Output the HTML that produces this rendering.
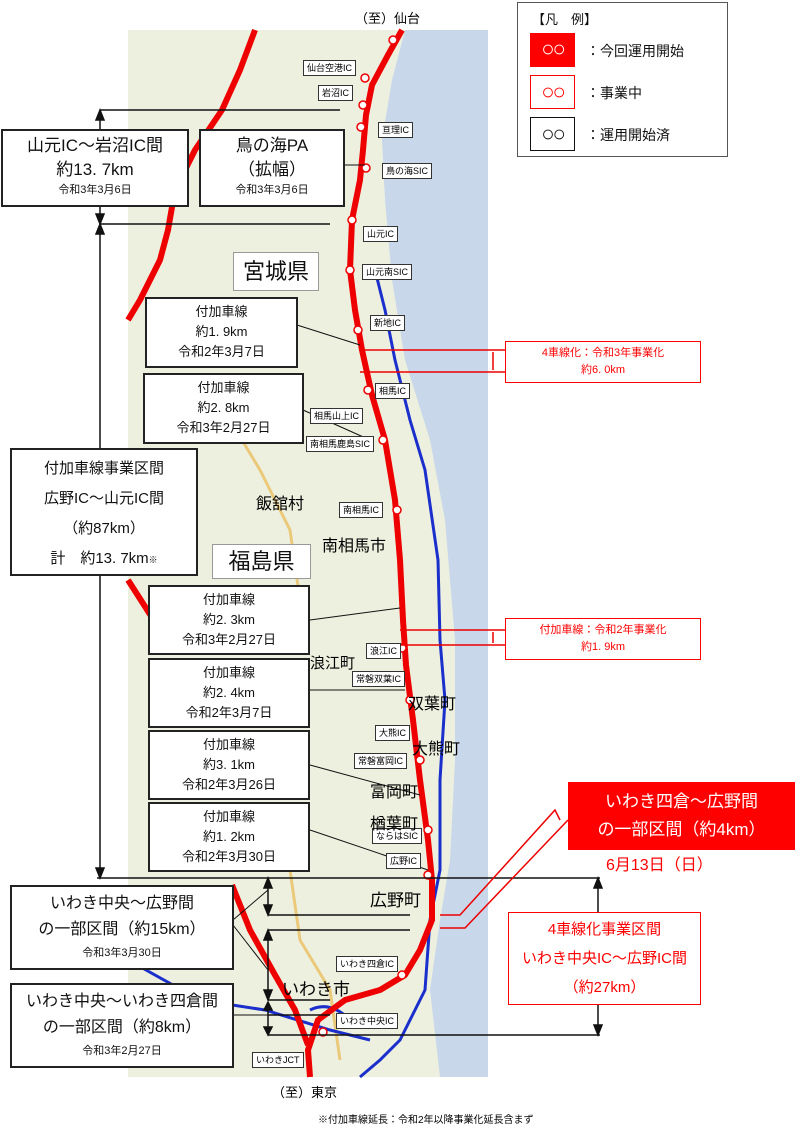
<!DOCTYPE html>
<html><head><meta charset="utf-8"><style>
html,body{margin:0;padding:0;background:#fff}
body{width:800px;height:1130px;position:relative;overflow:hidden;font-family:"Liberation Sans","Noto Sans CJK JP",sans-serif}
.b{position:absolute;background:#fff;border:2px solid #222;box-sizing:border-box;text-align:center;color:#111}
.t{position:absolute;white-space:nowrap}
.ic{position:absolute;background:#fff;border:1.5px solid #333;font-size:9px;padding:1px 3px;line-height:12px;white-space:nowrap}
.lg{position:absolute;left:12px;width:45px;height:34px;box-sizing:border-box;font-size:22px;line-height:32px;letter-spacing:-2px}
</style></head><body>
<svg width="800" height="1130" style="position:absolute;left:0;top:0">
<rect x="128" y="30" width="360" height="1047" fill="#eef0df"/>
<polygon points="405,30 488,30 488,1077 440,1077 430,990 440,920 450,860 455,760 455,640 445,520 430,440 405,360 392,280 385,200 382,140 392,80" fill="#c8d7ea"/>
<g fill="none" stroke="#e8c060" stroke-width="3" opacity=".8">
<path d="M290,870 L300,940 L330,990 L340,1060"/><path d="M230,420 L260,470 L290,530 L300,600"/>
</g>
<g fill="none" stroke="#1a2fcc" stroke-width="3">
<path d="M375,270 L385,310 L395,360 L410,420 L425,470 L438,560 L440,640 L445,700 L440,780 L440,870 L430,920 L425,990 L400,1040 L380,1060 L360,1077"/>
<path d="M128,960 L200,1000 L265,1010 L330,1030 L370,1040"/>
<path d="M310,1010 Q330,1000 350,1020"/>
</g>
<g fill="none" stroke="#ee0000" stroke-width="6" stroke-linejoin="round">
<path d="M402,30 L388,55 L372,85 L366,115 L363,150 L360,180 L352,220 L350,270 L355,310 L362,350 L372,395 L385,440 L395,500 L400,560 L403,620 L406,665 L413,720 L420,780 L428,840 L432,880 L432,920 L420,950 L405,975 L380,990 L345,1000 L318,1020 L308,1050 L310,1077"/>
<path d="M255,30 L240,70 L222,110 L195,150 L175,190 L168,230 L160,260 L140,300 L128,320"/>
<path d="M128,580 L160,630"/>
<path d="M232,885 L250,930 L275,975 L295,1010 L308,1045"/>
</g>
<g fill="#fff" stroke="#e00" stroke-width="1.5">
<circle cx="393" cy="40" r="4"/><circle cx="365" cy="78" r="4"/><circle cx="363" cy="105" r="4"/><circle cx="361" cy="127" r="4"/><circle cx="366" cy="168" r="4"/><circle cx="352" cy="220" r="4"/><circle cx="350" cy="270" r="4"/><circle cx="358" cy="330" r="4"/><circle cx="368" cy="390" r="4"/><circle cx="383" cy="440" r="4"/><circle cx="397" cy="510" r="4"/><circle cx="402" cy="648" r="4"/><circle cx="410" cy="700" r="4"/><circle cx="420" cy="760" r="4"/><circle cx="428" cy="830" r="4"/><circle cx="428" cy="875" r="4"/><circle cx="402" cy="975" r="4"/><circle cx="323" cy="1032" r="4"/>
</g>
<g stroke="#111" stroke-width="1.5" fill="#111">
<line x1="100" y1="110" x2="340" y2="110"/><line x1="100" y1="224" x2="330" y2="224"/>
<line x1="100" y1="112" x2="100" y2="222"/><polygon points="96,120 104,120 100,110"/><polygon points="96,214 104,214 100,224"/>
<line x1="100" y1="230" x2="100" y2="868"/><polygon points="96,234 104,234 100,224"/><polygon points="96,868 104,868 100,878"/>
<line x1="97" y1="878" x2="600" y2="878"/>
<line x1="268" y1="915" x2="410" y2="915"/><line x1="268" y1="930" x2="410" y2="930"/><line x1="268" y1="1015" x2="330" y2="1015"/><line x1="268" y1="1035" x2="600" y2="1035"/><line x1="268" y1="1000" x2="330" y2="1000"/>
<line x1="268" y1="880" x2="268" y2="913"/><polygon points="264,888 272,888 268,878"/><polygon points="264,905 272,905 268,915"/>
<line x1="268" y1="935" x2="268" y2="995"/><polygon points="264,940 272,940 268,930"/><polygon points="264,990 272,990 268,1000"/>
<line x1="268" y1="1005" x2="268" y2="1030"/><polygon points="264,1010 272,1010 268,1002"/><polygon points="264,1027 272,1027 268,1035"/>
<line x1="598" y1="885" x2="598" y2="1028"/><polygon points="594,888 602,888 598,878"/><polygon points="594,1025 602,1025 598,1035"/>
<g fill="none" stroke-width="1">
<line x1="345" y1="165" x2="365" y2="165"/><line x1="297" y1="325" x2="360" y2="345"/><line x1="303" y1="410" x2="370" y2="440"/>
<line x1="310" y1="620" x2="400" y2="608"/><line x1="310" y1="690" x2="405" y2="690"/><line x1="310" y1="765" x2="420" y2="795"/><line x1="310" y1="830" x2="428" y2="870"/>
<line x1="233" y1="920" x2="268" y2="890"/><line x1="233" y1="925" x2="268" y2="970"/><line x1="233" y1="1015" x2="268" y2="1015"/>
</g>
</g>
<g stroke="#e00" stroke-width="1.5" fill="none">
<line x1="360" y1="350" x2="505" y2="350"/><line x1="360" y1="372" x2="505" y2="372"/>
<line x1="493" y1="352" x2="493" y2="370"/>
<line x1="400" y1="630" x2="505" y2="630"/><line x1="400" y1="645" x2="505" y2="645"/><line x1="493" y1="632" x2="493" y2="643"/>
<path d="M440,915 L460,915 L555,810 L560,820"/><path d="M440,928 L465,928 L568,820"/>
</g>
</svg>

<div class="t" style="left:355px;top:8px;font-size:13px">（至）仙台</div>
<div class="t" style="left:272px;top:1082px;font-size:13px">（至）東京</div>
<div class="t" style="left:318px;top:1111px;font-size:10px">※付加車線延長：令和2年以降事業化延長含まず</div>

<div class="ic" style="left:303px;top:60px">仙台空港IC</div>
<div class="ic" style="left:318px;top:85px">岩沼IC</div>
<div class="ic" style="left:378px;top:122px">亘理IC</div>
<div class="ic" style="left:382px;top:163px">鳥の海SIC</div>
<div class="ic" style="left:363px;top:226px">山元IC</div>
<div class="ic" style="left:362px;top:264px">山元南SIC</div>
<div class="ic" style="left:370px;top:315px">新地IC</div>
<div class="ic" style="left:375px;top:383px">相馬IC</div>
<div class="ic" style="left:310px;top:408px">相馬山上IC</div>
<div class="ic" style="left:306px;top:436px">南相馬鹿島SIC</div>
<div class="ic" style="left:339px;top:502px">南相馬IC</div>
<div class="ic" style="left:366px;top:643px">浪江IC</div>
<div class="ic" style="left:352px;top:671px">常磐双葉IC</div>
<div class="ic" style="left:375px;top:725px">大熊IC</div>
<div class="ic" style="left:354px;top:753px">常磐富岡IC</div>
<div class="ic" style="left:372px;top:828px">ならはSIC</div>
<div class="ic" style="left:386px;top:853px">広野IC</div>
<div class="ic" style="left:336px;top:956px">いわき四倉IC</div>
<div class="ic" style="left:336px;top:1013px">いわき中央IC</div>
<div class="ic" style="left:252px;top:1052px">いわきJCT</div>

<div class="t" style="left:256px;top:490px;font-size:16px">飯舘村</div>
<div class="t" style="left:322px;top:532px;font-size:16px">南相馬市</div>
<div class="t" style="left:310px;top:652px;font-size:15px">浪江町</div>
<div class="t" style="left:408px;top:690px;font-size:16px">双葉町</div>
<div class="t" style="left:412px;top:735px;font-size:16px">大熊町</div>
<div class="t" style="left:370px;top:778px;font-size:16px">富岡町</div>
<div class="t" style="left:370px;top:810px;font-size:16px">楢葉町</div>
<div class="t" style="left:370px;top:886px;font-size:17px">広野町</div>
<div class="t" style="left:282px;top:975px;font-size:17px">いわき市</div>

<div class="b" style="left:517px;top:2px;width:211px;height:155px;border-width:1.5px;border-color:#555">
<div class="t" style="left:14px;top:6px;font-size:13px">【凡　例】</div>
<div class="lg" style="top:30px;background:#f00;color:#fff">○○</div>
<div class="lg" style="top:72px;border:1.5px solid #f00;color:#f00">○○</div>
<div class="lg" style="top:114px;border:1.5px solid #111">○○</div>
<div class="t" style="left:68px;top:38px;font-size:14px">：今回運用開始</div>
<div class="t" style="left:68px;top:80px;font-size:14px">：事業中</div>
<div class="t" style="left:68px;top:122px;font-size:14px">：運用開始済</div>
</div>

<div class="b" style="left:1px;top:129px;width:188px;height:78px;padding-top:3px"><div style="font-size:17px;line-height:24px">山元IC～岩沼IC間</div><div style="font-size:17px;line-height:24px">約13. 7km</div><div style="font-size:11px;line-height:17px">令和3年3月6日</div></div>
<div class="b" style="left:199px;top:129px;width:146px;height:78px;padding-top:3px"><div style="font-size:17px;line-height:24px">鳥の海PA</div><div style="font-size:17px;line-height:24px">（拡幅）</div><div style="font-size:11px;line-height:17px">令和3年3月6日</div></div>
<div class="b" style="left:233px;top:252px;width:86px;height:39px;border-width:1px;border-color:#999;font-size:22px;line-height:37px">宮城県</div>
<div class="b" style="left:145px;top:297px;width:153px;height:71px;padding-top:3px;font-size:13px;line-height:20px">付加車線<br>約1. 9km<br>令和2年3月7日</div>
<div class="b" style="left:143px;top:373px;width:161px;height:71px;padding-top:3px;font-size:13px;line-height:20px">付加車線<br>約2. 8km<br>令和3年2月27日</div>
<div class="b" style="left:10px;top:448px;width:188px;height:128px;padding-top:4px;font-size:15px;line-height:30px">付加車線事業区間<br>広野IC～山元IC間<br>（約87km）<br>計　約13. 7km<span style="font-size:9px">※</span></div>
<div class="b" style="left:212px;top:544px;width:99px;height:35px;border-width:1px;border-color:#999;font-size:22px;line-height:33px">福島県</div>
<div class="b" style="left:148px;top:585px;width:162px;height:70px;padding-top:3px;font-size:13px;line-height:20px">付加車線<br>約2. 3km<br>令和3年2月27日</div>
<div class="b" style="left:148px;top:658px;width:162px;height:70px;padding-top:3px;font-size:13px;line-height:20px">付加車線<br>約2. 4km<br>令和2年3月7日</div>
<div class="b" style="left:148px;top:730px;width:162px;height:70px;padding-top:3px;font-size:13px;line-height:20px">付加車線<br>約3. 1km<br>令和2年3月26日</div>
<div class="b" style="left:148px;top:802px;width:162px;height:70px;padding-top:3px;font-size:13px;line-height:20px">付加車線<br>約1. 2km<br>令和2年3月30日</div>
<div class="b" style="left:10px;top:885px;width:224px;height:85px;padding-top:4px"><div style="font-size:16px;line-height:26px">いわき中央～広野間</div><div style="font-size:16px;line-height:26px">の一部区間（約15km）</div><div style="font-size:11px;line-height:20px">令和3年3月30日</div></div>
<div class="b" style="left:10px;top:983px;width:224px;height:85px;padding-top:4px"><div style="font-size:16px;line-height:26px">いわき中央～いわき四倉間</div><div style="font-size:16px;line-height:26px">の一部区間（約8km）</div><div style="font-size:11px;line-height:20px">令和3年2月27日</div></div>

<div class="b" style="left:505px;top:341px;width:196px;height:42px;border:1px solid #f00;color:#f00;font-size:11px;line-height:17px;padding-top:3px">4車線化：令和3年事業化<br>約6. 0km</div>
<div class="b" style="left:505px;top:618px;width:196px;height:42px;border:1px solid #f00;color:#f00;font-size:11px;line-height:17px;padding-top:3px">付加車線：令和2年事業化<br>約1. 9km</div>
<div class="b" style="left:568px;top:782px;width:227px;height:68px;border:none;background:#f00;color:#fff;font-size:17px;line-height:28px;padding-top:6px">いわき四倉～広野間<br>の一部区間（約4km）</div>
<div class="t" style="left:606px;top:851px;font-size:16px;color:#f00">6月13日（日）</div>
<div class="b" style="left:508px;top:912px;width:193px;height:93px;border:1.5px solid #f00;color:#f00;font-size:15px;line-height:29px;padding-top:2px">4車線化事業区間<br>いわき中央IC～広野IC間<br>（約27km）</div>
</body></html>
